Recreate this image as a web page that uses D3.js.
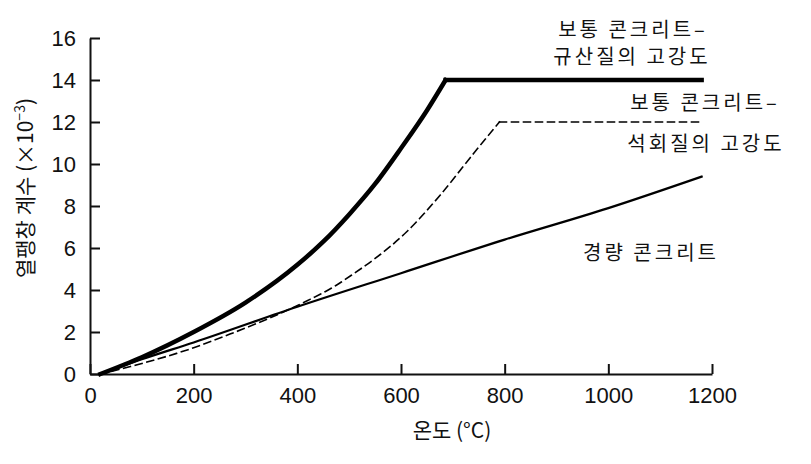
<!DOCTYPE html>
<html>
<head>
<meta charset="utf-8">
<script src="https://cdn.jsdelivr.net/npm/d3@7"></script>
<style>
  body { margin: 0; background: #fff; }
  svg { display: block; }
  .tick text { font-family: "Liberation Sans", Arial, sans-serif; font-size: 22px; fill: #111; }
  .lbl { font-family: "Noto Sans CJK KR", sans-serif; fill: #111; }
</style>
</head>
<body>
<svg id="chart" width="811" height="464"></svg>
<script>
// temperature (°C) and expansion (x10^-3)
const tempSiliceous = [20, 100, 200, 300, 400, 450, 500, 550, 600, 650, 686, 1180];
const valSiliceous  = [0, 0.8, 2.0, 3.4, 5.2, 6.3, 7.6, 9.05, 10.75, 12.55, 14, 14];

const tempCalcareous = [20, 100, 200, 270, 350, 420, 470, 510, 550, 610, 675, 740, 790, 1180];
const valCalcareous  = [0, 0.5, 1.25, 1.9, 2.7, 3.5, 4.15, 4.8, 5.5, 6.75, 8.5, 10.5, 12, 12];

const tempLight = [20, 100, 200, 400, 600, 800, 1000, 1180];
const valLight  = [0, 0.7, 1.5, 3.2, 4.8, 6.4, 7.9, 9.4];

const xTicks = [0, 200, 400, 600, 800, 1000, 1200];
const yTicks = [0, 2, 4, 6, 8, 10, 12, 14, 16];

const svg = d3.select('#chart');
const margin = {top: 38, right: 99, bottom: 90, left: 90};
const width = +svg.attr('width') - margin.left - margin.right;
const height = +svg.attr('height') - margin.top - margin.bottom;

const g = svg.append('g')
    .attr('transform', `translate(${margin.left},${margin.top})`);

const x = d3.scaleLinear().domain([0, 1200]).range([0, width]);
const y = d3.scaleLinear().domain([0, 16]).range([height, 0]);

// axes, ticks pointing inward
const yAxis = g.append('g')
    .call(d3.axisLeft(y).tickValues(yTicks).tickSizeInner(-10).tickSizeOuter(0).tickPadding(14));
const xAxis = g.append('g')
    .attr('transform', `translate(0,${height})`)
    .call(d3.axisBottom(x).tickValues(xTicks).tickFormat(d3.format('d'))
        .tickSizeInner(-10).tickSizeOuter(0).tickPadding(13));
[xAxis, yAxis].forEach(a => {
    a.selectAll('path, line').attr('stroke', '#111').attr('stroke-width', 2);
});

const line = d3.line()
    .x(d => x(d[0]))
    .y(d => y(d[1]))
    .curve(d3.curveMonotoneX);
const flat = d3.line().x(d => x(d[0])).y(d => y(d[1]));

function drawSeries(temps, vals, style, plateau) {
    const pts = temps.map((t, i) => [t, vals[i]]);
    const rise = plateau ? pts.slice(0, -1) : pts;
    const paths = [line(rise)];
    if (plateau) paths.push(flat(pts.slice(-2)));
    paths.forEach(p => {
        g.append('path')
            .attr('d', p)
            .attr('fill', 'none')
            .attr('stroke', '#000')
            .attr('stroke-width', style.w)
            .attr('stroke-dasharray', style.dash || null)
            .attr('stroke-linecap', 'square');
    });
}

drawSeries(tempLight, valLight, {w: 2.2}, false);
drawSeries(tempCalcareous, valCalcareous, {w: 1.6, dash: '7,5'}, true);
drawSeries(tempSiliceous, valSiliceous, {w: 4.5}, true);

// series labels
const labels = [
    {text: '보통 콘크리트–', x: 633, y: 37},
    {text: '규산질의 고강도', x: 632, y: 64},
    {text: '보통 콘크리트–', x: 705, y: 110},
    {text: '석회질의 고강도', x: 706, y: 151},
    {text: '경량 콘크리트', x: 651, y: 260}
];
svg.selectAll('.series-lbl')
    .data(labels)
    .enter().append('text')
    .attr('class', 'lbl')
    .attr('x', d => d.x)
    .attr('y', d => d.y)
    .attr('text-anchor', 'middle')
    .style('font-size', '20px')
    .style('letter-spacing', '3px')
    .text(d => d.text);

// axis titles
svg.append('text')
    .attr('class', 'lbl')
    .attr('x', 452)
    .attr('y', 438)
    .attr('text-anchor', 'middle')
    .style('font-size', '21px')
    .text('온도 (°C)');

const yt = svg.append('text')
    .attr('class', 'lbl')
    .attr('transform', 'translate(33,188) rotate(-90)')
    .attr('text-anchor', 'middle')
    .style('font-size', '21px');
yt.append('tspan').text('열팽창 계수 (×10');
yt.append('tspan').attr('dy', -8).style('font-size', '14px').text('−3');
yt.append('tspan').attr('dy', 8).text(')');
</script>
</body>
</html>
